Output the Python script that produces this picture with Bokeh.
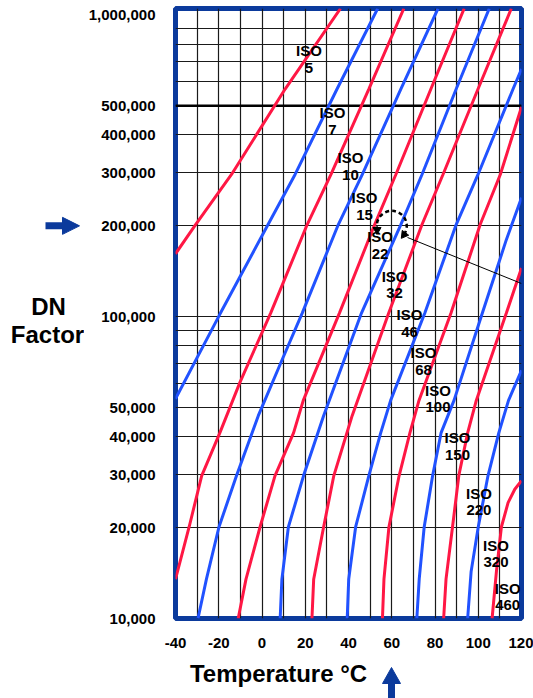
from bokeh.plotting import figure
from bokeh.layouts import row, column
from bokeh.models import Range1d, FixedTicker, NumeralTickFormatter, Span
from bokeh.core.properties import value
from bokeh.embed import file_html
from bokeh.resources import INLINE

# ---------------- data ----------------
GRADES = [5, 7, 10, 15, 22, 32, 46, 68, 100, 150, 220, 320, 460]

T_ISO5 = [-40, -30.7, -14.1, 10.7, 36.3]
DN_ISO5 = [161600, 202000, 296000, 568000, 1050000]
T_ISO7 = [-40, -19.2, 2.8, 15.3, 34.7, 53.5]
DN_ISO7 = [53500, 102800, 202000, 296000, 568000, 1050000]
T_ISO10 = [-40, -33.7, -27.9, -19.5, -10.2, 4.0, 20.9, 31.9, 49.4, 65.6]
DN_ISO10 = [13500, 20100, 29700, 41200, 60600, 102800, 202000, 296000, 568000, 1050000]
T_ISO15 = [-29.6, -25.7, -19.9, -11.8, -1.7, 9.8, 18.6, 35.3, 46.4, 64.2, 81.4]
DN_ISO15 = [10000, 13500, 20100, 29700, 47000, 73400, 102800, 202000, 296000, 568000, 1050000]
T_ISO22 = [-11.0, -7.4, -0.9, 6.0, 14.6, 19.1, 35.8, 52.1, 61.9, 78.1, 93.5]
DN_ISO22 = [10000, 13500, 20100, 29700, 41200, 52800, 102800, 202000, 296000, 568000, 1050000]
T_ISO32 = [8.4, 9.2, 12.2, 19.2, 28.5, 46.0, 64.2, 74.0, 89.8, 105.1]
DN_ISO32 = [10000, 13500, 20100, 29700, 47000, 102800, 202000, 296000, 568000, 1050000]
T_ISO46 = [23.1, 23.9, 28.5, 33.2, 41.7, 58.6, 74.0, 83.7, 99.9, 115.3]
DN_ISO46 = [10000, 13500, 20100, 29700, 47000, 102800, 202000, 296000, 568000, 1050000]
T_ISO68 = [39.4, 40.1, 43.3, 49.4, 54.9, 59.5, 75.3, 89.8, 99.9, 116.1, 120]
DN_ISO68 = [10000, 13500, 20100, 29700, 41200, 52800, 102800, 202000, 296000, 568000, 662000]
T_ISO100 = [55.7, 56.4, 58.7, 63.4, 68.4, 72.6, 87.4, 100.9, 110.2, 120]
DN_ISO100 = [10000, 13500, 20100, 29700, 41200, 52800, 102800, 202000, 296000, 495000]
T_ISO150 = [71.6, 72.7, 75.0, 78.9, 82.8, 88.8, 101.9, 113.0, 120]
DN_ISO150 = [10000, 13500, 20100, 29700, 41200, 52800, 102800, 180000, 248000]
T_ISO220 = [84.0, 85.1, 88.1, 91.0, 95.1, 99.1, 113.0, 120]
DN_ISO220 = [10000, 13500, 20100, 29700, 41200, 52800, 102800, 145000]
T_ISO320 = [95.1, 96.7, 100.0, 104.5, 109.5, 114.0, 120]
DN_ISO320 = [10000, 14300, 20100, 29700, 41200, 52800, 66400]
T_ISO460 = [106.4, 108.4, 110.7, 113.8, 116.9, 120]
DN_ISO460 = [10000, 14300, 20100, 24200, 26800, 28600]

# label anchor points (midpoint between "ISO" and the grade number)
LABEL_T = [21.7, 32.6, 40.9, 47.4, 54.6, 61.3, 68.2, 74.7, 81.4, 90.4, 100.3, 108.2, 113.6]
LABEL_DN = [714000, 444000, 314600, 232000, 172800, 127600, 95300, 71200, 53400, 37200, 24400, 16400, 11800]

X_TICKS = [-40, -20, 0, 20, 40, 60, 80, 100, 120]
X_GRID = [-30, -20, -10, 0, 10, 20, 30, 40, 50, 60, 70, 80, 90, 100, 110]
Y_TICKS = [10000, 20000, 30000, 40000, 50000, 100000, 200000, 300000, 400000, 500000, 1000000]
Y_GRID = [20000, 30000, 40000, 50000, 60000, 70000, 80000, 90000,
          100000, 200000, 300000, 400000, 500000, 600000, 700000, 800000, 900000]

# example operating point (60 degC, DN 200,000) and pointer line
EX_T = 60
EX_DN = 200000
PTR_T = [67.3, 120]
PTR_DN = [183000, 128800]

# y-title positions (DN) in the left strip
TITLE_DN = [108000, 87300]

RED = "#ff1744"
BLUE = "#2152ff"
NAVY = "#0b3a9c"
FONT = "Liberation Sans"

TOP_H = 656
W = 533
H = 698
LEFT_W = 84

# ---------------- main chart ----------------
p = figure(width=W - LEFT_W, height=TOP_H,
           x_range=Range1d(-40, 120), y_range=Range1d(10000, 1050000),
           y_axis_type="log", output_backend="svg", toolbar_location=None,
           min_border_left=175 - LEFT_W, min_border_right=12,
           min_border_top=8, min_border_bottom=TOP_H - 618)
p.background_fill_color = "white"
p.border_fill_color = "white"
p.outline_line_color = NAVY
p.outline_line_width = 5
p.outline_line_alpha = 1

p.xgrid.ticker = FixedTicker(ticks=X_GRID)
p.ygrid.ticker = FixedTicker(ticks=Y_GRID)
p.grid.grid_line_color = "#1a1a1a"
p.grid.grid_line_width = 1.2
p.grid.grid_line_alpha = 1
p.add_layout(Span(location=500000, dimension="width", line_color="black",
                  line_width=2.5, level="underlay"))

p.xaxis.ticker = FixedTicker(ticks=X_TICKS)
p.xaxis.major_label_overrides = {t: str(t) for t in X_TICKS}
p.yaxis.ticker = FixedTicker(ticks=Y_TICKS)
p.yaxis.formatter = NumeralTickFormatter(format="0,0")
for ax in (p.xaxis, p.yaxis):
    ax.axis_line_color = None
    ax.major_tick_line_color = None
    ax.minor_tick_line_color = None
    ax.major_tick_out = 0
    ax.major_tick_in = 0
    ax.minor_tick_out = 0
    ax.minor_tick_in = 0
    ax.major_label_text_font = FONT
    ax.major_label_text_font_style = "bold"
    ax.major_label_text_font_size = "15px"
    ax.major_label_text_color = "black"
p.yaxis.major_label_standoff = 20
p.xaxis.major_label_standoff = 19

curves = [
    (T_ISO5, DN_ISO5), (T_ISO7, DN_ISO7), (T_ISO10, DN_ISO10), (T_ISO15, DN_ISO15),
    (T_ISO22, DN_ISO22), (T_ISO32, DN_ISO32), (T_ISO46, DN_ISO46), (T_ISO68, DN_ISO68),
    (T_ISO100, DN_ISO100), (T_ISO150, DN_ISO150), (T_ISO220, DN_ISO220),
    (T_ISO320, DN_ISO320), (T_ISO460, DN_ISO460),
]
for i, (tx, dn) in enumerate(curves):
    p.line(tx, dn, line_color=RED if i % 2 == 0 else BLUE, line_width=3)

p.text(x=LABEL_T, y=LABEL_DN, text=["ISO"] * len(GRADES), y_offset=-8.5,
       text_font=value(FONT), text_font_style="bold", text_font_size="15px",
       text_align="center", text_baseline="middle", text_color="black")
p.text(x=LABEL_T, y=LABEL_DN, text=[str(g) for g in GRADES], y_offset=8.5,
       text_font=value(FONT), text_font_style="bold", text_font_size="15px",
       text_align="center", text_baseline="middle", text_color="black")

# example point: dashed rotating circle with pointer line
p.arc(x=[EX_T], y=[EX_DN], radius=15, radius_units="screen",
      start_angle=-0.6, end_angle=3.4, line_dash="4 3", line_width=2.5, line_color="black")
p.scatter(x=[EX_T - 6.8, EX_T + 5.7], y=[EX_DN * 0.97, EX_DN * 0.935], marker="triangle",
          size=8, angle=[3.14, 2.5], color="black")
p.line(PTR_T, PTR_DN, line_color="black", line_width=1)

# ---------------- left strip: y title and pointer arrow (shares the DN scale) ----------------
lf = figure(width=LEFT_W, height=TOP_H, x_range=Range1d(0, LEFT_W), y_range=p.y_range,
            y_axis_type="log", output_backend="svg", toolbar_location=None,
            x_axis_location=None, y_axis_location=None,
            min_border_left=0, min_border_right=0, min_border_top=8,
            min_border_bottom=TOP_H - 618)
lf.outline_line_color = None
lf.grid.visible = False
lf.text(x=[48, 47], y=TITLE_DN, text=["DN", "Factor"], text_font=value(FONT),
        text_font_style="bold", text_font_size="24px", text_align="center",
        text_baseline="middle", text_color="black")
lf.segment(x0=[45], y0=[EX_DN], x1=[64], y1=[EX_DN], line_width=7, line_color=NAVY)
lf.patch(x=[62, 79, 62], y=[EX_DN * 1.067, EX_DN, EX_DN / 1.067], fill_color=NAVY, line_color=NAVY)

# ---------------- bottom strip: x title and pointer arrow ----------------
bt = figure(width=W, height=H - TOP_H, x_range=Range1d(0, W), y_range=Range1d(H, TOP_H),
            output_backend="svg", toolbar_location=None,
            x_axis_location=None, y_axis_location=None,
            min_border_left=0, min_border_right=0, min_border_top=0, min_border_bottom=0)
bt.outline_line_color = None
bt.grid.visible = False
bt.text(x=[278], y=[673], text=["Temperature °C"], text_font=value(FONT),
        text_font_style="bold", text_font_size="24px", text_align="center",
        text_baseline="middle", text_color="black")
bt.segment(x0=[391], y0=[698], x1=[391], y1=[681], line_width=7, line_color=NAVY)
bt.patch(x=[382, 391, 400], y=[683, 667, 683], fill_color=NAVY, line_color=NAVY)

layout = column(row(lf, p, spacing=0), bt, spacing=0)
open("out.html", "w").write(file_html(layout, INLINE))
